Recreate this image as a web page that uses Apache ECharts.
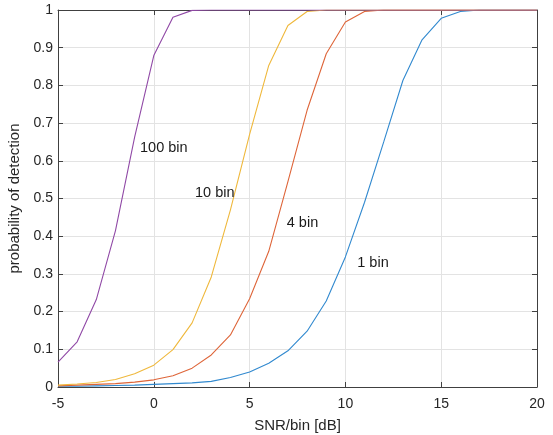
<!DOCTYPE html>
<html>
<head>
<meta charset="utf-8">
<script src="https://cdn.jsdelivr.net/npm/echarts@6/dist/echarts.min.js"></script>
<style>
html,body{margin:0;padding:0;background:#fff;}
#c{width:553px;height:435px;}
</style>
</head>
<body>
<div id="c"></div>
<script>
var snr = [-5,-4,-3,-2,-1,0,1,2,3,4,5,6,7,8,9,10,11,12,13,14,15,16,17,18,19,20];
var pd1 = [0.002,0.002,0.003,0.004,0.005,0.007,0.009,0.011,0.015,0.025,0.04,0.063,0.096,0.148,0.228,0.345,0.49,0.65,0.813,0.921,0.978,0.996,1,1,1,1];
var pd4 = [0.003,0.005,0.007,0.009,0.013,0.019,0.03,0.05,0.085,0.138,0.234,0.36,0.545,0.734,0.884,0.968,0.996,1,1,1,1,1,1,1,1,1];
var pd10 = [0.005,0.008,0.012,0.02,0.035,0.058,0.099,0.17,0.292,0.47,0.67,0.853,0.959,0.996,1,1,1,1,1,1,1,1,1,1,1,1];
var pd100 = [0.066,0.12,0.232,0.415,0.663,0.879,0.981,0.999,1,1,1,1,1,1,1,1,1,1,1,1,1,1,1,1,1,1];
var seriesNames = ['1 bin','4 bin','10 bin','100 bin'];
var labelText = ['1 bin','4 bin','10 bin','100 bin'];
var labelX = [10.62, 6.94, 2.15, -0.72];
var labelY = [0.329, 0.434, 0.514, 0.633];
var xTicks = [-5,0,5,10,15,20];
var yTicks = [0,0.1,0.2,0.3,0.4,0.5,0.6,0.7,0.8,0.9,1];

var colors = ['#3189cf','#de6539','#efb83c','#9049a6'];
var font = '"Liberation Sans", Arial, Helvetica, sans-serif';
var axisCol = '#404040';

function pairs(ys){ return snr.map(function(x,i){ return [x, ys[i]]; }); }
var allY = [pd1, pd4, pd10, pd100];

var chart = echarts.init(document.getElementById('c'), null, {renderer:'canvas'});
function baseX(pos, showLabels){
  return {
    type:'value', position:pos, min:-5, max:20, interval:5,
    name: showLabels ? 'SNR/bin [dB]' : '', nameLocation:'middle', nameGap:31,
    nameTextStyle:{color:'#262626', fontSize:15, fontFamily:font},
    axisLine:{show:true, onZero:false, lineStyle:{color:axisCol, width:1}},
    axisTick:{show:true, inside:true, length:5, lineStyle:{color:axisCol}},
    axisLabel:{show:showLabels, color:'#262626', fontSize:14, fontFamily:font, margin:10},
    splitLine:{show:showLabels, lineStyle:{color:'#e3e3e3', width:1}}
  };
}
function baseY(pos, showLabels){
  return {
    type:'value', position:pos, min:0, max:1, interval:0.1,
    name: showLabels ? 'probability of detection' : '', nameLocation:'middle', nameGap:31,
    nameTextStyle:{color:'#262626', fontSize:15, fontFamily:font},
    axisLine:{show:true, onZero:false, lineStyle:{color:axisCol, width:1}},
    axisTick:{show:true, inside:true, length:5, lineStyle:{color:axisCol}},
    axisLabel:{show:showLabels, color:'#262626', fontSize:14, fontFamily:font, margin:5,
      formatter:function(v){ return String(Math.round(v*10)/10); }},
    splitLine:{show:showLabels, lineStyle:{color:'#e3e3e3', width:1}}
  };
}
var option = {
  animation:false,
  backgroundColor:'#ffffff',
  grid:{left:58, right:16, top:10, bottom:48, containLabel:false, outerBoundsMode:'none'},
  xAxis:[baseX('bottom', true), baseX('top', false)],
  yAxis:[baseY('left', true), baseY('right', false)],
  series: allY.map(function(ys,i){
    return {
      name: seriesNames[i], type:'line', data: pairs(ys), xAxisIndex:0, yAxisIndex:0,
      showSymbol:false, symbol:'none', smooth:false,
      lineStyle:{color:colors[i], width:1.1},
      itemStyle:{color:colors[i]}
    };
  })
};
chart.setOption(option);
var els = labelText.map(function(t,i){
  var p = chart.convertToPixel({xAxisIndex:0, yAxisIndex:0}, [labelX[i], labelY[i]]);
  return {
    type:'text', x:p[0], y:p[1], z:100,
    style:{text:t, fill:'#1a1a1a', fontSize:14.5, fontFamily:font, align:'left', verticalAlign:'middle'}
  };
});
chart.setOption({graphic:{elements:els}});
</script>
</body>
</html>
